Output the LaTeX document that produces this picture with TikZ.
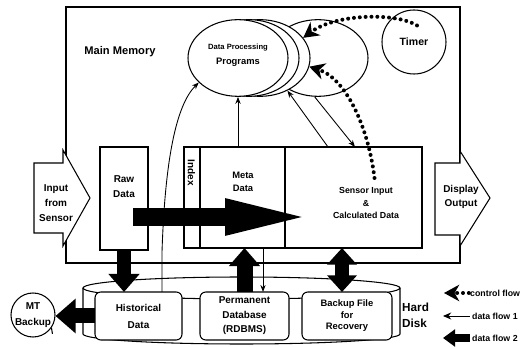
\documentclass[tikz,border=0pt]{standalone}
\usepackage{fontspec}
\setmainfont{Liberation Sans}
\usepackage{tikz}
\usetikzlibrary{shapes.geometric, arrows.meta, positioning, calc}

\newcommand{\lblfont}[2]{\fontsize{#1}{#2}\selectfont\bfseries}

\tikzset{
  membox/.style={draw, line width=1.6pt, inner sep=0pt, outer sep=0pt},
  blockbox/.style={draw, line width=0.9pt, fill=white, inner sep=0pt, outer sep=0pt},
  diskbox/.style={draw, line width=0.9pt, fill=white, rounded corners=5pt, inner sep=0pt,
    outer sep=0pt, minimum height=1.44cm, align=center},
  progell/.style={ellipse, draw, line width=0.9pt, fill=white, minimum width=3cm, minimum height=2.3cm},
  txt/.style={align=center, inner sep=0pt, font=\lblfont{8}{12.5}},
  ioarrow/.style={draw, line width=0.9pt, fill=white},
  flow/.style={line width=0.75pt, -{Stealth[length=6pt, width=4.5pt]}},
  bigflow/.style={line width=0.42cm, -{Triangle[length=0.54cm, width=0.9cm]}},
  ctrlflow/.style={line width=3.4pt, line cap=round, dash pattern=on 0pt off 5pt,
    -{Stealth[length=13pt, width=14pt, inset=4pt]}},
}

\begin{document}
\begin{tikzpicture}[x=0.03cm, y=-0.03cm]
  \useasboundingbox (0,0) rectangle (529,347);

  % hard disk
  \draw[line width=0.9pt] (83,288) -- (83,334)
    arc[start angle=180, end angle=360, x radius=4.755cm, y radius=0.3cm] -- (400,288);
  \draw[line width=0.9pt] (241.5,288) ellipse [x radius=4.755cm, y radius=0.33cm];
  \node[diskbox, minimum width=2.61cm, font=\lblfont{8.5}{14.5}] (hist) at (138.5,316) {Historical\\Data};
  \node[diskbox, minimum width=2.67cm, font=\lblfont{8.5}{12.3}] (perm) at (244.5,316) {Permanent\\Database\\(RDBMS)};
  \node[diskbox, minimum width=2.7cm, font=\lblfont{8}{9.8}] (backup) at (347,316) {Backup File\\for\\Recovery};
  \node[txt, font=\lblfont{10}{13.5}, align=left, anchor=west] (disklbl) at (402,315) {Hard\\Disk};

  % main memory
  \node[membox, minimum width=11.82cm, minimum height=7.68cm] (mem) at (263,135) {};
  \node[txt, font=\lblfont{9.5}{11}] (memlbl) at (120,52) {Main Memory};

  % sensor in / display out
  \draw[ioarrow] (34,163) -- (63,163) -- (63,150) -- (90,198) -- (63,246) -- (63,233) -- (34,233) -- cycle;
  \node[txt, font=\lblfont{8.5}{12.75}] (inlbl) at (56,203) {Input\\from\\Sensor};
  \draw[ioarrow] (435,163) -- (460,163) -- (460,151) -- (490,198) -- (460,246) -- (460,235) -- (435,235) -- cycle;
  \node[txt, font=\lblfont{8.5}{12}] (outlbl) at (461,197) {Display\\Output};

  % blocks in memory
  \node[blockbox, minimum width=1.44cm, minimum height=3.09cm] (raw) at (124,198.5) {};
  \node[txt, font=\lblfont{8.5}{12.75}] (rawlbl) at (124,187) {Raw\\Data};
  \node[blockbox, minimum width=0.48cm, minimum height=3.03cm] (idx) at (192,197.5) {};
  \node[blockbox, minimum width=2.55cm, minimum height=3.03cm, right=0pt of idx] (meta) {};
  \node[blockbox, minimum width=4.11cm, minimum height=3.03cm, right=0pt of meta] (sensor) {};
  \draw[line width=1.6pt] (idx.north east) -- (idx.south east);
  \node[txt, rotate=-90, font=\lblfont{8.5}{10}] (idxlbl) at (191.5,173) {Index};
  \node[txt, font=\lblfont{8}{11}] (metalbl) at (243,181.5) {Meta\\Data};
  \node[txt, font=\lblfont{7.5}{10.6}] (senslbl) at (366,203) {Sensor Input\\\&\\Calculated Data};

  % programs and timer
  \node[progell] (dpp4) at (318,58) {};
  \node[progell] (dpp3) at (260,58) {};
  \node[progell] (dpp2) at (249,58) {};
  \node[progell] (dpp) at (238,58) {};
  \node[txt, font=\lblfont{8}{12.75}] (dpplbl) at (238,55.5) {{\lblfont{6.5}{8}Data Processing}\\Programs};
  \node[circle, draw, line width=0.9pt, minimum size=1.92cm, font=\lblfont{9}{11}] (timer) at (414,42) {Timer};

  % data flow 1
  \draw[flow] (meta.north -| dpp.south) -- (dpp.south);
  \draw[flow] ($(hist.north east)+(-20,0)$) -- ++(0,-40) .. controls (165,160) and (176,105) .. (dpp.212);
  \draw[flow] ($(sensor.north west)+(43,0)$) -- (dpp3.-50);
  \draw[flow] (dpp4.265) -- ($(sensor.north west)+(70,0)$);
  \coordinate (mp) at ($(meta.south east)+(-22,0)$);
  \draw[flow] (mp) -- (mp |- perm.north);

  % data flow 2
  \draw[bigflow, line width=0.54cm, -{Triangle[length=2.85cm, width=0.93cm]}]
    ($(raw.east)+(-15,18.5)$) -- ($(sensor.west)+(35,19.5)$);
  \draw[bigflow] (raw.south) -- (raw.south |- hist.north);
  \draw[bigflow, line width=0.48cm] (perm.north) -- (perm.north |- meta.south);
  \coordinate (bk) at ($(backup.north)+(-5,0)$);
  \draw[bigflow, {Triangle[length=0.5cm, width=0.87cm]}-{Triangle[length=0.5cm, width=0.87cm]}]
    (bk) -- (bk |- sensor.south);
  \node[circle, draw, line width=0.9pt, fill=white, minimum size=1.32cm, inner sep=0pt,
    align=center, font=\lblfont{8.5}{13.6}] (mt) at (33,315) {MT\\Backup};
  \draw[line width=0.9pt] (mt.-35) -- ++(1,6);
  \draw[bigflow, line width=0.45cm, -{Triangle[length=0.6cm, width=1cm]}] (hist.west) -- (hist.west -| mt.east);

  % control flow
  \draw[ctrlflow] ($(timer.north)+(3,16)$) .. controls (395,12) and (335,14) .. (dpp3.25);
  \draw[ctrlflow] ($(sensor.north)+(21,31)$) .. controls (368,125) and (345,78) .. (dpp3.-10);

  % legend
  \node[txt, font=\lblfont{7.5}{9}, anchor=west] (lgctrl) at (470,293) {control flow};
  \node[txt, font=\lblfont{7.5}{9}, anchor=west] (lgflow1) at (472,316) {data flow 1};
  \node[txt, font=\lblfont{7.5}{9}, anchor=west] (lgflow2) at (472,338) {data flow 2};
  \coordinate (lgc) at ($(lgctrl.west)+(-26,0)$);
  \coordinate (lgf1) at ($(lgflow1.west)+(-29,0)$);
  \coordinate (lgf2) at ($(lgflow2.west)+(-29,0)$);
  \draw[ctrlflow] ([xshift=-1pt]lgctrl.west) -- (lgc);
  \draw[flow, -{Stealth[length=7pt, width=6pt]}] ([xshift=-2pt]lgflow1.west) -- (lgf1);
  \draw[bigflow, line width=0.26cm, -{Triangle[length=0.36cm, width=0.5cm]}] ([xshift=-2pt]lgflow2.west) -- (lgf2);
\end{tikzpicture}
\end{document}
